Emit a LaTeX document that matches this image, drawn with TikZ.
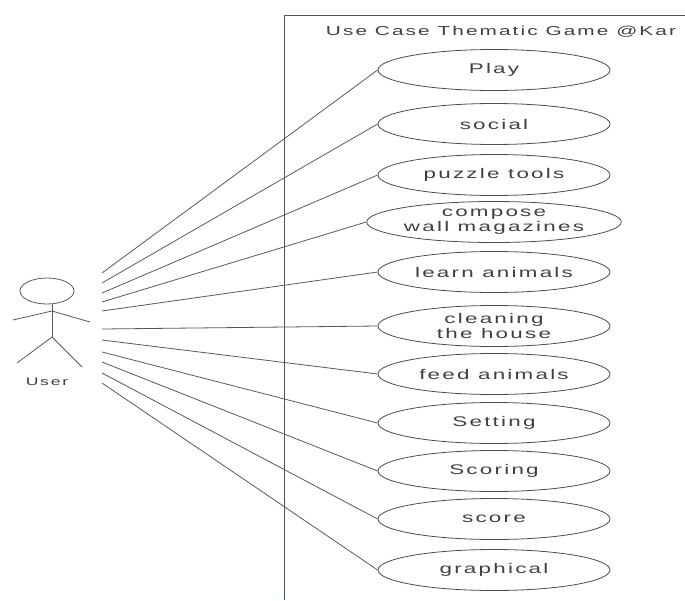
\documentclass[tikz,border=0pt]{standalone}
\usepackage{fontspec}
\setmainfont{Liberation Sans}
\newfontfamily\widefont[FakeStretch=1.6,LetterSpace=16]{Liberation Sans}
\usetikzlibrary{shapes,positioning,calc}

\begin{document}
\begin{tikzpicture}[x=1pt, y=-1pt,
    usecase/.style={ellipse, draw=black!70, line width=0.8pt, minimum width=232pt, minimum height=41pt, inner sep=0pt, align=center, text=black!75, font=\widefont\fontsize{14}{15}\selectfont},
    link/.style={draw=black!65, line width=0.8pt},
    boundary/.style={draw={rgb,255:red,70;green,88;blue,88}, line width=0.9pt}]
    \useasboundingbox (0,0) rectangle (685,600);

    % System boundary
    \draw[boundary] (284,600) -- (284,15) -- (685,15);
    \node[text=black!75, font=\widefont\fontsize{13}{13}\selectfont] (title) at (501,32) {Use Case Thematic Game @Kar};

    % Actor
    \draw[black!65, line width=0.8pt] (47,291) ellipse (27 and 13);
    \draw[black!65, line width=0.8pt] (52,304) -- (52,337);
    \draw[black!65, line width=0.8pt] (13,320) -- (52,311) -- (90,322);
    \draw[black!65, line width=0.8pt] (17,363) -- (52,337) -- (82,367);
    \node[text=black!75, font=\widefont\fontsize{11}{11}\selectfont] (user) at (47,382) {User};

    % Use cases
    \foreach \name/\y/\txt in {play/70/Play, social/124/social, puzzle/175/puzzle tools,
        compose/222/{compose\\wall magazines}, learn/272/learn animals,
        cleaning/326/{cleaning\\the house}, feed/374/feed animals, setting/423/Setting,
        scoring/471/Scoring, score/519/score, graphical/570/graphical} {
        \node[usecase] (\name) at (494,\y) {\txt};
    }

    % Associations
    \foreach \name/\y in {play/273, social/283, puzzle/293, compose/302, learn/311,
        cleaning/329, feed/340, setting/352, scoring/362, score/373, graphical/383} {
        \coordinate (a-\name) at (102,\y);
        \draw[link] (a-\name) -- (\name.west);
    }
\end{tikzpicture}
\end{document}
